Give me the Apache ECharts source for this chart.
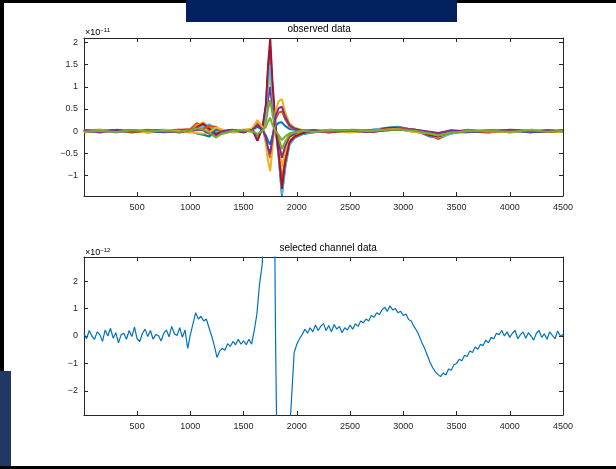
<!DOCTYPE html>
<html><head><meta charset="utf-8">
<script src="https://cdn.jsdelivr.net/npm/echarts@6/dist/echarts.min.js"></script>
<style>html,body{margin:0;padding:0;background:#fff}#c{width:616px;height:469px}</style>
</head><body><div id="c"></div>
<script>
// ---- data ----
const X_TOP = [0,150,300,450,600,750,900,1000,1060,1120,1180,1240,1300,1400,1500,1580,1630,1680,1710,1730,1750,1770,1800,1830,1860,1890,1930,1980,2050,2150,2300,2500,2700,2850,2950,3100,3250,3330,3450,3600,3800,4000,4200,4350,4500];
const ch01 = [0.02,-0.03,0.03,-0.02,0.01,0.03,-0.02,0.02,0.10,0.15,0.08,-0.05,0.00,0.02,-0.02,0.05,-0.20,0.10,0.57,1.37,1.90,1.05,0.10,-0.58,-1.45,-0.80,-0.29,-0.15,-0.07,-0.03,0.02,-0.02,0.03,0.08,0.10,0.03,-0.12,-0.15,-0.05,0.02,-0.02,0.02,-0.03,0.02,0.00];
const ch02 = [-0.03,0.02,-0.01,0.03,-0.03,0.00,0.03,0.05,0.18,0.12,0.02,-0.10,-0.03,0.01,0.03,0.02,-0.15,0.06,0.45,1.15,1.60,0.90,0.05,-0.45,-1.10,-0.62,-0.22,-0.10,-0.04,0.03,-0.02,0.02,-0.02,0.05,0.08,0.00,-0.08,-0.18,-0.03,-0.02,0.03,-0.03,0.02,-0.02,0.01];
const ch03 = [0.01,0.04,-0.02,0.00,0.03,-0.03,0.01,-0.02,0.12,0.20,0.10,-0.08,0.02,-0.03,0.01,0.04,-0.12,0.05,0.38,0.95,1.30,0.72,0.04,-0.32,-0.80,-0.45,-0.16,-0.08,-0.02,0.02,0.01,-0.03,0.02,0.06,0.06,0.02,-0.06,-0.10,0.02,-0.01,0.02,0.01,-0.02,0.03,-0.01];
const ch04 = [-0.02,0.01,0.02,-0.03,0.02,0.01,-0.03,0.03,0.05,0.08,0.14,0.02,-0.04,0.02,-0.01,0.03,-0.10,0.04,0.30,0.72,1.00,0.55,0.03,-0.25,-0.60,-0.34,-0.12,-0.06,0.02,-0.02,0.03,0.01,-0.01,0.04,0.07,0.04,-0.04,-0.08,-0.04,0.03,-0.01,0.03,0.01,-0.02,0.02];
const ch05 = [0.03,-0.02,0.00,0.02,-0.02,0.02,0.02,-0.03,0.08,0.12,0.06,0.03,-0.06,0.00,0.02,-0.02,-0.08,0.03,0.22,0.50,0.70,0.40,0.02,-0.16,-0.40,-0.24,-0.08,-0.03,-0.03,0.01,-0.02,0.03,0.02,0.03,0.05,-0.01,-0.02,-0.06,-0.02,-0.03,0.02,-0.02,0.03,0.00,-0.02];
const ch06 = [-0.01,0.03,-0.03,0.01,0.02,-0.02,0.00,0.01,0.06,0.10,0.16,0.00,-0.02,-0.02,0.03,0.01,-0.18,0.08,0.42,1.05,1.50,0.85,0.06,-0.60,-1.42,-0.85,-0.32,-0.14,-0.06,-0.02,0.02,0.00,0.03,0.06,0.09,0.01,-0.10,-0.14,-0.06,0.01,0.02,-0.02,0.01,0.02,-0.01];
const ch07 = [0.02,0.00,0.02,-0.02,-0.01,0.02,0.03,-0.01,0.09,0.17,0.05,-0.07,0.01,0.03,-0.03,0.06,-0.22,0.12,0.62,1.50,2.10,1.15,0.12,-0.52,-1.30,-0.72,-0.26,-0.12,-0.05,0.02,-0.03,0.02,-0.01,0.07,0.08,0.02,-0.09,-0.12,-0.02,0.00,-0.03,0.02,-0.01,-0.02,0.02];
const ch08 = [0.00,0.02,-0.02,0.03,-0.01,-0.02,0.02,0.00,-0.05,-0.08,-0.12,0.04,0.02,-0.01,0.02,0.03,0.10,0.02,-0.10,-0.22,-0.30,-0.12,0.12,0.19,0.20,0.12,0.05,0.03,0.01,-0.02,0.02,-0.01,0.02,0.02,0.04,0.00,-0.03,-0.05,0.01,-0.02,0.01,0.02,-0.02,0.01,0.01];
const ch09 = [0.02,-0.01,0.01,-0.02,0.03,0.00,-0.01,0.03,0.02,0.05,0.12,0.10,-0.03,0.02,0.00,0.04,0.18,0.05,-0.20,-0.45,-0.60,-0.25,0.27,0.42,0.45,0.27,0.11,0.05,0.02,0.01,-0.01,0.02,-0.02,0.03,0.06,0.03,-0.04,-0.07,0.00,0.02,-0.02,0.00,0.02,-0.01,0.00];
const ch10 = [-0.02,0.02,0.00,0.01,-0.03,0.03,0.01,-0.02,-0.04,-0.06,-0.02,0.08,0.04,-0.02,0.03,0.06,0.25,0.08,-0.30,-0.68,-0.90,-0.40,0.45,0.68,0.72,0.43,0.18,0.08,0.03,-0.01,0.02,-0.02,0.01,0.04,0.05,-0.02,-0.05,-0.10,-0.03,0.01,0.00,-0.02,0.03,0.01,-0.02];
const ch11 = [0.01,-0.02,0.03,0.00,0.01,-0.01,-0.02,0.02,0.04,0.02,-0.06,-0.12,0.00,0.03,-0.02,0.03,0.14,0.04,-0.16,-0.38,-0.50,-0.18,0.35,0.52,0.55,0.33,0.14,0.06,0.01,0.02,0.00,0.01,-0.02,0.02,0.03,0.04,-0.01,-0.04,0.02,-0.01,0.01,0.01,-0.01,0.02,0.00];
const ch12 = [-0.01,0.01,-0.02,0.02,0.00,0.01,-0.01,0.02,0.06,0.04,-0.04,-0.14,-0.05,0.01,0.02,0.00,-0.06,0.02,0.10,0.22,0.30,0.15,0.00,-0.09,-0.20,-0.12,-0.05,-0.02,0.01,-0.01,0.01,0.02,0.00,0.03,0.04,0.01,-0.05,-0.09,-0.04,0.00,0.01,-0.01,0.02,-0.01,0.01];
const TOP_CHANNELS = [ch01,ch02,ch03,ch04,ch05,ch06,ch07,ch08,ch09,ch10,ch11,ch12];

const SEL_START = 0, SEL_STEP = 25;
const selected = [
 0.10,-0.10,0.20,0.00,-0.12,0.15,0.05,-0.20,0.22,0.00,
 0.28,-0.08,0.12,-0.25,0.05,0.10,-0.12,0.20,-0.02,0.32,
 -0.10,-0.20,0.10,0.25,-0.02,0.20,-0.12,0.05,0.02,-0.18,
 0.10,0.22,-0.03,0.35,0.08,0.02,0.30,-0.05,0.22,-0.45,
 0.05,0.45,0.85,0.62,0.72,0.55,0.62,0.30,0.00,-0.35,
 -0.78,-0.55,-0.45,-0.52,-0.28,-0.38,-0.20,-0.32,-0.12,-0.30,
 -0.18,-0.32,-0.12,-0.30,0.20,0.80,1.90,2.60,6.00,10.00,
 14.00,12.00,0.00,-8.00,-12.00,-10.00,-7.00,-4.00,-2.30,-0.60,
 -0.30,-0.10,0.05,0.25,0.10,0.30,0.15,0.40,0.20,0.35,
 0.45,0.20,0.38,0.15,0.42,0.25,0.35,0.12,0.30,0.22,
 0.40,0.25,0.45,0.35,0.55,0.48,0.62,0.55,0.75,0.68,
 0.85,0.78,0.95,1.05,0.90,1.10,0.95,1.00,0.85,0.90,
 0.75,0.80,0.60,0.55,0.35,0.20,0.00,-0.25,-0.45,-0.70,
 -0.95,-1.15,-1.30,-1.40,-1.48,-1.35,-1.42,-1.20,-1.25,-1.05,
 -1.00,-0.85,-0.90,-0.70,-0.75,-0.55,-0.60,-0.40,-0.48,-0.30,
 -0.35,-0.15,-0.25,-0.05,-0.10,0.10,0.05,0.20,0.00,0.15,
 -0.05,0.10,0.20,-0.10,0.05,0.15,-0.08,0.12,0.00,-0.15,
 0.10,0.20,-0.05,0.08,-0.12,0.15,0.02,-0.10,0.18,0.00,
 0.05];

const X_TICKS = [500,1000,1500,2000,2500,3000,3500,4000,4500];
const Y_TICKS_TOP = [-1,-0.5,0,0.5,1,1.5,2];
const Y_TICKS_BOTTOM = [-2,-1,0,1,2];
const TITLE_TOP = 'observed data', TITLE_BOTTOM = 'selected channel data';
const EXP_TOP = '-11', EXP_BOTTOM = '-12';

// ---- chart ----
const COLORS = ['#0072BD','#D95319','#EDB120','#7E2F8E','#77AC30','#4DBEEE','#A2142F'];
const AX = '#262626';
const FONT = 'Liberation Sans, Arial, sans-serif';
const minus = v => String(v).replace('-', '\u2212');

function xAx(grid, pos, labels) {
  return {type:'value', gridIndex:grid, position:pos, min:1, max:4500,
    axisLine:{show:true, onZero:false, lineStyle:{color:AX, width:1}},
    axisTick:{show:true, inside:true, length:4, customValues:X_TICKS, lineStyle:{color:AX}},
    axisLabel:{show:labels, customValues:X_TICKS, color:AX, fontSize:9, fontFamily:FONT, margin:7, formatter:v => String(v)},
    splitLine:{show:false}};
}
function yAx(grid, pos, labels, mn, mx, ticks) {
  return {type:'value', gridIndex:grid, position:pos, min:mn, max:mx,
    axisLine:{show:true, onZero:false, lineStyle:{color:AX, width:1}},
    axisTick:{show:true, inside:true, length:4, customValues:ticks, lineStyle:{color:AX}},
    axisLabel:{show:labels, customValues:ticks, color:AX, fontSize:9, fontFamily:FONT, margin:6, formatter:minus},
    splitLine:{show:false}};
}

const series = TOP_CHANNELS.map((ch, i) => ({
  type:'line', xAxisIndex:0, yAxisIndex:0, showSymbol:false, symbol:'none',
  data: ch.map((v, j) => [X_TOP[j], v]),
  lineStyle:{width:2, color:COLORS[i % COLORS.length]}, clip:true, silent:true
}));
series.push({
  type:'line', xAxisIndex:2, yAxisIndex:2, showSymbol:false, symbol:'none',
  data: selected.map((v, i) => [SEL_START + i * SEL_STEP, v]),
  lineStyle:{width:1.2, color:COLORS[0]}, clip:true, silent:true
});

const expRich = {b:{fontSize:9, color:AX, fontFamily:FONT}, s:{fontSize:6, color:AX, fontFamily:FONT, verticalAlign:'top', padding:[0,0,6,0]}};

const option = {
  animation:false,
  backgroundColor:'#fff',
  grid:[{left:84, top:38, width:479, height:158}, {left:84, top:257, width:479, height:158}],
  xAxis:[xAx(0,'bottom',true), xAx(0,'top',false), xAx(1,'bottom',true), xAx(1,'top',false)],
  yAxis:[yAx(0,'left',true,-1.46,2.1,Y_TICKS_TOP), yAx(0,'right',false,-1.46,2.1,Y_TICKS_TOP),
         yAx(1,'left',true,-2.88,2.88,Y_TICKS_BOTTOM), yAx(1,'right',false,-2.88,2.88,Y_TICKS_BOTTOM)],
  series: series,
  graphic:[
    {type:'rect', shape:{x:0,y:0,width:616,height:3}, style:{fill:'#000'}, z:100},
    {type:'rect', shape:{x:0,y:0,width:4,height:371}, style:{fill:'#000'}, z:100},
    {type:'rect', shape:{x:0,y:371,width:11,height:96}, style:{fill:'#1f3864'}, z:100},
    {type:'rect', shape:{x:0,y:466,width:616,height:3}, style:{fill:'#000'}, z:100},
    {type:'rect', shape:{x:186,y:0,width:271,height:22}, style:{fill:'#03205e'}, z:100},
    {type:'text', left:323.5-36, top:24, style:{text:TITLE_TOP, font:'10px '+FONT, fill:'#000'}, z:50},
    {type:'text', left:323.5-44, top:243, style:{text:TITLE_BOTTOM, font:'10px '+FONT, fill:'#000'}, z:50},
    {type:'text', left:85, top:27, style:{text:'{b|\u00d710}{s|'+minus(EXP_TOP)+'}', rich:expRich}, z:50},
    {type:'text', left:85, top:247, style:{text:'{b|\u00d710}{s|'+minus(EXP_BOTTOM)+'}', rich:expRich}, z:50}
  ]
};
const chart = echarts.init(document.getElementById('c'), null, {renderer:'canvas'});
chart.setOption(option);
</script>
</body></html>
